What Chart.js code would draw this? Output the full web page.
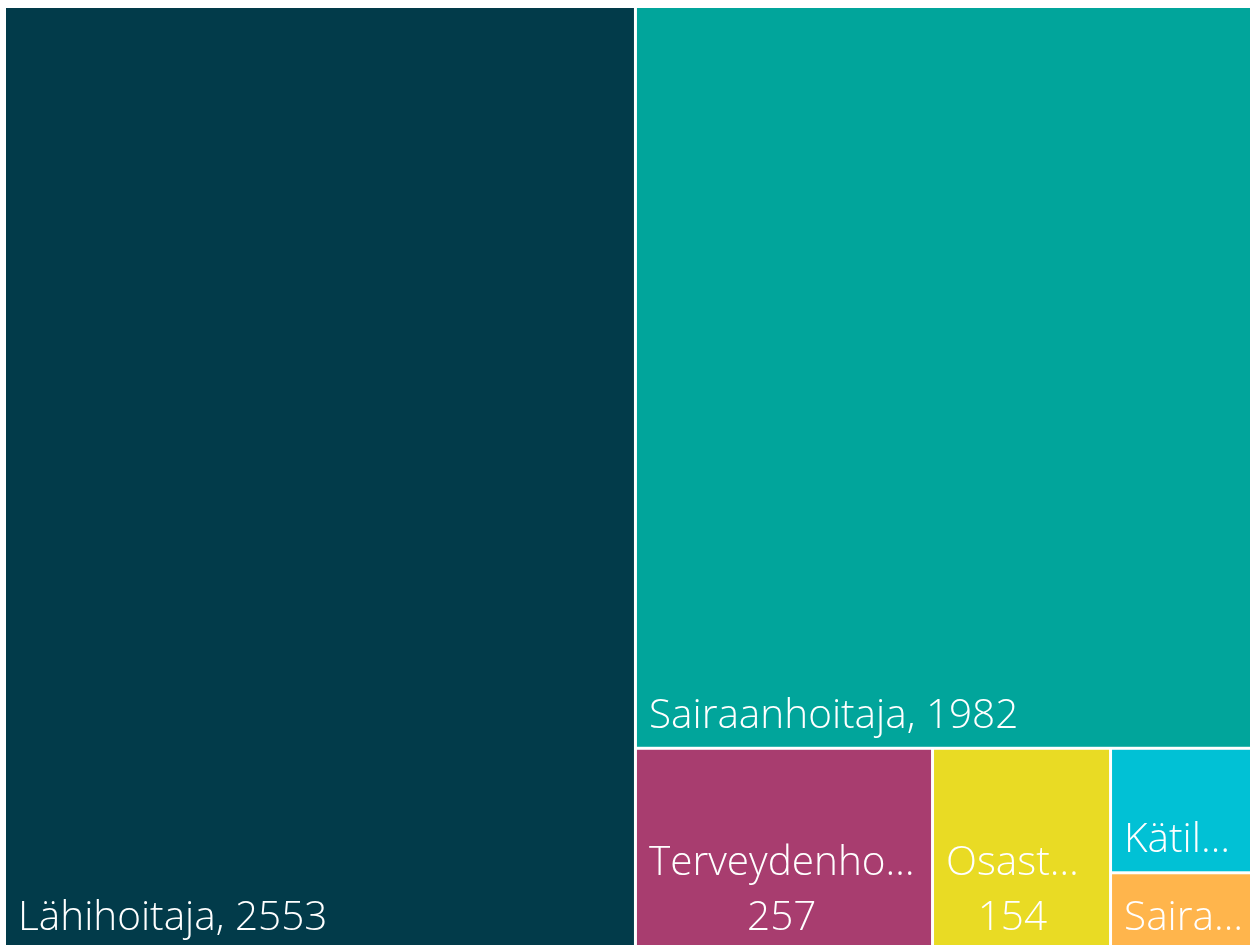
<!DOCTYPE html>
<html>
<head>
<meta charset="utf-8">
<script src="https://cdn.jsdelivr.net/npm/chart.js@4.4.0/dist/chart.umd.min.js"></script>
<style>
  html, body { margin: 0; padding: 0; background: #ffffff; overflow: hidden; }
  #wrap { position: absolute; left: 0; top: 0; }
</style>
</head>
<body>
<div id="wrap"><canvas id="chart" width="1260" height="952"></canvas></div>
<script>
// Ammattinimikkeet ja lukumäärät
var nimikkeet = ['Lähihoitaja', 'Sairaanhoitaja', 'Terveydenhoitaja', 'Osastonhoitaja', 'Kätilö', 'Sairaalahuoltaja'];
var arvot = [2553, 1982, 257, 154, 79, 49];

// colors of the cells
var varit = ['#023B4A', '#01A59B', '#A83D6F', '#E9DB24', '#01C1D5', '#FFB54C'];

var fontti = '350 40.5px "Open Sans", "Noto Sans", sans-serif';

// squarified layout, returns rects in data units (0..100 both ways)
function squarify(vals, w, h) {
    var total = vals.reduce(function (a, b) { return a + b; }, 0);
    var areas = vals.map(function (v) { return v / total * w * h; });
    var x = 0, y = 0, rects = [], i = 0;

    function sum(r) { return r.reduce(function (a, b) { return a + b; }, 0); }
    function worst(row, side) {
        var s = sum(row), m = 0;
        row.forEach(function (r) {
            m = Math.max(m, side * side * r / (s * s), s * s / (side * side * r));
        });
        return m;
    }

    while (i < areas.length) {
        var side = Math.min(w, h);
        var row = [areas[i]];
        var j = i + 1;
        while (j < areas.length && worst(row.concat(areas[j]), side) <= worst(row, side)) {
            row.push(areas[j]);
            j++;
        }
        var rs = sum(row);
        if (w >= h) {
            var cw = rs / h, yy = y;
            row.forEach(function (a) {
                rects.push({ x: x, y: yy, w: cw, h: a / cw });
                yy += a / cw;
            });
            x += cw; w -= cw;
        } else {
            var rh = rs / w, xx = x;
            row.forEach(function (a) {
                rects.push({ x: xx, y: y, w: a / rh, h: rh });
                xx += a / rh;
            });
            y += rh; h -= rh;
        }
        i = j;
    }
    return rects;
}

// cut text so that it fits into maxW
function lyhenna(ctx, txt, maxW) {
    if (ctx.measureText(txt).width <= maxW) return txt;
    for (var n = txt.length - 1; n > 0; n--) {
        var t = txt.slice(0, n) + '\u2026';
        if (ctx.measureText(t).width <= maxW) return t;
    }
    return '';
}

var treemapPlugin = {
    id: 'treemap',
    afterDraw: function (chart) {
        var ctx = chart.ctx;
        var area = chart.chartArea;
        var sx = chart.scales.x, sy = chart.scales.y;
        var W = area.right - area.left, H = area.bottom - area.top;
        // layout computed in pixel proportions, stored in data units
        var rects = squarify(arvot, W, H).map(function (r) {
            return { x: r.x / W * 100, y: r.y / H * 100, w: r.w / W * 100, h: r.h / H * 100 };
        });

        ctx.save();
        rects.forEach(function (r, k) {
            var x1 = sx.getPixelForValue(r.x), x2 = sx.getPixelForValue(r.x + r.w);
            var y1 = sy.getPixelForValue(r.y), y2 = sy.getPixelForValue(r.y + r.h);
            var px = x1 + 1.5, py = y1 + 1.5, pw = x2 - x1 - 3, ph = y2 - y1 - 3;
            ctx.fillStyle = varit[k];
            ctx.fillRect(px, py, pw, ph);

            // label
            ctx.font = fontti;
            ctx.fillStyle = '#ffffff';
            ctx.textBaseline = 'alphabetic';
            var pad = 12;
            var maxW = pw - 2 * pad;
            var bottom = py + ph - 19;
            var full = nimikkeet[k] + ', ' + arvot[k];
            if (ctx.measureText(full).width <= maxW || ph < 150) {
                ctx.textAlign = 'left';
                ctx.fillText(lyhenna(ctx, full, maxW), px + pad, bottom);
            } else {
                var l1 = lyhenna(ctx, nimikkeet[k], maxW);
                var l2 = String(arvot[k]);
                var bw = Math.max(ctx.measureText(l1).width, ctx.measureText(l2).width);
                var cx = px + pad + bw / 2;
                ctx.textAlign = 'center';
                ctx.fillText(l1, cx, bottom - 55);
                ctx.fillText(l2, cx, bottom);
            }
        });
        ctx.restore();
    }
};

new Chart(document.getElementById('chart'), {
    type: 'scatter',
    data: { datasets: [] },
    options: {
        responsive: false,
        animation: false,
        layout: { padding: { left: 4.5, top: 6.5, right: 1.5, bottom: 2 } },
        plugins: { legend: { display: false }, tooltip: { enabled: false } },
        scales: {
            x: { type: 'linear', min: 0, max: 100, display: false },
            y: { type: 'linear', min: 0, max: 100, reverse: true, display: false }
        }
    },
    plugins: [treemapPlugin]
});
</script>
</body>
</html>
